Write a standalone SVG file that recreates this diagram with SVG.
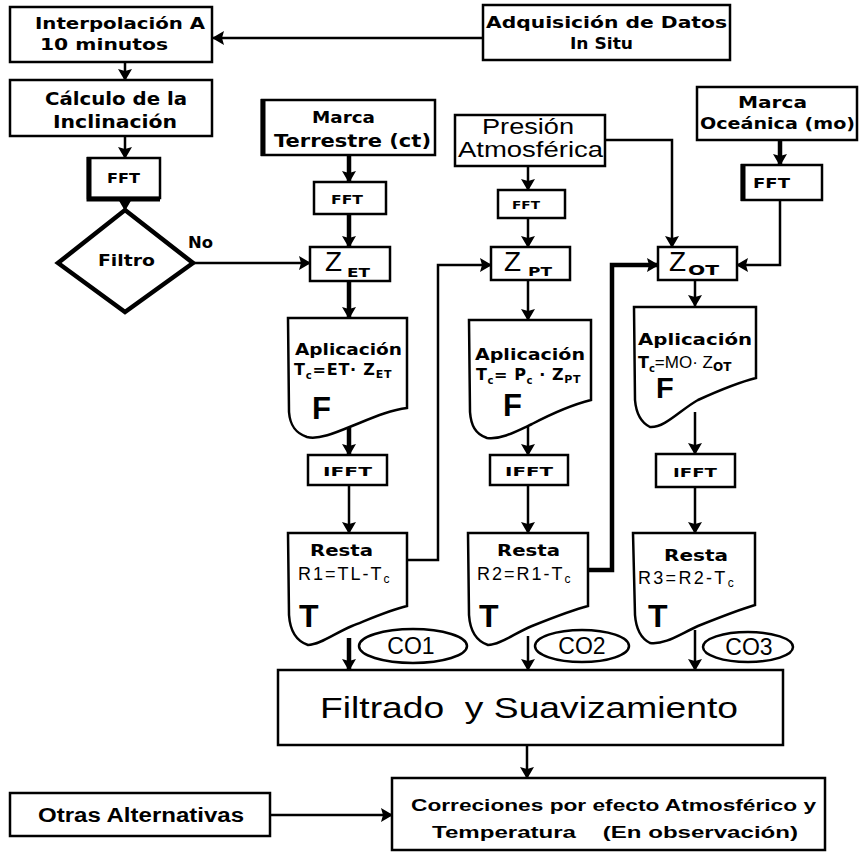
<svg xmlns="http://www.w3.org/2000/svg" width="860" height="856" viewBox="0 0 860 856">
<defs>
<marker id="ah" viewBox="0 0 12 14" refX="11" refY="7" markerWidth="12" markerHeight="14" markerUnits="userSpaceOnUse" orient="auto">
<path d="M0,0 L12,7 L0,14 L2,7 Z" fill="#000"/>
</marker>
<style>
.box{fill:#fff;stroke:#000;stroke-width:2.5}
.thk{stroke:#000;stroke-width:5;fill:none}
.ln{fill:none;stroke:#000;stroke-width:2.5}
.ln4{fill:none;stroke:#000;stroke-width:4.5}
.t{font-family:"DejaVu Sans","Liberation Sans",Arial,sans-serif;font-weight:bold;fill:#000}
.a{font-family:"Liberation Sans",Arial,sans-serif;font-weight:bold;fill:#000}
.r{font-family:"Liberation Sans",Arial,sans-serif;font-weight:normal;fill:#000}
.m{text-anchor:middle}
</style>
</defs>
<rect width="860" height="856" fill="#fff"/>

<g id="connectors">
<path class="ln" d="M483,38 H213" marker-end="url(#ah)"/>
<path class="ln" d="M125,62 V80" marker-end="url(#ah)"/>
<path class="ln" d="M125,136 V158" marker-end="url(#ah)"/>
<path class="ln" d="M125,198 V210" marker-end="url(#ah)"/>
<path class="ln" d="M193,263 H310" marker-end="url(#ah)"/>
<path class="ln4" d="M349,155 V182" marker-end="url(#ah)"/>
<path class="ln4" d="M349,214 V247" marker-end="url(#ah)"/>
<path class="ln4" d="M349,281 V318" marker-end="url(#ah)"/>
<path class="ln4" d="M349,425 V455" marker-end="url(#ah)"/>
<path class="ln" d="M349,485 V533" marker-end="url(#ah)"/>
<path class="ln4" d="M349,638 V670" marker-end="url(#ah)"/>
<path class="ln" d="M528,166 V190" marker-end="url(#ah)"/>
<path class="ln" d="M528,218 V247" marker-end="url(#ah)"/>
<path class="ln" d="M528,280 V320" marker-end="url(#ah)"/>
<path class="ln" d="M528,425 V455" marker-end="url(#ah)"/>
<path class="ln" d="M528,485 V533" marker-end="url(#ah)"/>
<path class="ln" d="M528,636 V670" marker-end="url(#ah)"/>
<path class="ln" d="M695,280 V306" marker-end="url(#ah)"/>
<path class="ln" d="M695,412 V454" marker-end="url(#ah)"/>
<path class="ln" d="M695,487 V533" marker-end="url(#ah)"/>
<path class="ln" d="M695,630 V670" marker-end="url(#ah)"/>
<path class="ln" d="M407,560 H438 V265 H491" marker-end="url(#ah)"/>
<path class="ln4" d="M588,570 H612 V265 H658" marker-end="url(#ah)"/>
<path class="ln" d="M605,140 H672 V247" marker-end="url(#ah)"/>
<path class="ln" d="M780,200 V265 H737" marker-end="url(#ah)"/>
<path class="ln4" d="M780,140 V165" marker-end="url(#ah)"/>
<path class="ln" d="M527,745 V778" marker-end="url(#ah)"/>
<path class="ln" d="M270,815 H392" marker-end="url(#ah)"/>
</g>

<g id="interpolacion">
<rect class="box" x="10" y="7" width="202" height="55"/>
<text class="t" x="35" y="29" font-size="16" textLength="170" lengthAdjust="spacingAndGlyphs">Interpolación A</text>
<text class="t" x="40" y="50" font-size="16" textLength="128" lengthAdjust="spacingAndGlyphs">10 minutos</text>
</g>
<g id="adquisicion">
<rect class="box" x="483" y="5" width="247" height="55"/>
<text class="t" x="486" y="28" font-size="16" textLength="241" lengthAdjust="spacingAndGlyphs">Adquisición de Datos</text>
<text class="t" x="570" y="49" font-size="16" textLength="63" lengthAdjust="spacingAndGlyphs">In Situ</text>
</g>
<g id="calculo">
<rect class="box" x="10" y="80" width="202" height="56"/>
<text class="t" x="45" y="105" font-size="17" textLength="142" lengthAdjust="spacingAndGlyphs">Cálculo de la</text>
<text class="t" x="53" y="128" font-size="17" textLength="124" lengthAdjust="spacingAndGlyphs">Inclinación</text>
</g>
<g id="fft0">
<rect class="box" x="88" y="158" width="72" height="40"/>
<path class="thk" d="M89,157 V199 H160"/>
<text class="t" x="107" y="183" font-size="14" textLength="33" lengthAdjust="spacingAndGlyphs">FFT</text>
</g>
<g id="filtro">
<polygon points="125,210 193,263 125,312 58,263" fill="#fff" stroke="#000" stroke-width="4.5"/>
<text class="t" x="98" y="266" font-size="15" textLength="57" lengthAdjust="spacingAndGlyphs">Filtro</text>
<text class="t" x="188" y="248" font-size="15" textLength="25" lengthAdjust="spacingAndGlyphs">No</text>
</g>

<g id="marcaT">
<rect class="box" x="262" y="100" width="173" height="55"/>
<path class="thk" d="M263,99 V156"/>
<text class="t" x="312" y="123" font-size="16" textLength="63" lengthAdjust="spacingAndGlyphs">Marca</text>
<text class="t" x="274" y="147" font-size="17" textLength="157" lengthAdjust="spacingAndGlyphs">Terrestre (ct)</text>
</g>
<g id="fft1">
<rect class="box" x="314" y="182" width="72" height="32"/>
<text class="t" x="331" y="204" font-size="13" textLength="32" lengthAdjust="spacingAndGlyphs">FFT</text>
</g>
<g id="zet">
<rect class="box" x="310" y="247" width="80" height="34"/>
<text class="r" x="325" y="271" font-size="28">Z</text>
<text class="t" x="347" y="277" font-size="13" textLength="23" lengthAdjust="spacingAndGlyphs">ET</text>
</g>
<g id="apl1">
<path class="box" d="M288,318 H407 V408 C390,410 372,418 352,426 C335,433 318,440 307,437 C295,433 290,425 289,412 Z"/>
<text class="t" x="295" y="355" font-size="16" textLength="107" lengthAdjust="spacingAndGlyphs">Aplicación</text>
<text class="t" x="294" y="375" font-size="16" letter-spacing="0.8">T<tspan font-size="10" dy="4">c</tspan><tspan dy="-4">=ET· Z</tspan><tspan font-size="11" dy="3">ET</tspan></text>
<text class="a" x="312" y="419" font-size="31">F</text>
</g>
<g id="ifft1">
<rect class="box" x="308" y="455" width="79" height="30"/>
<text class="t" x="323" y="476" font-size="13" textLength="49" lengthAdjust="spacingAndGlyphs">IFFT</text>
</g>
<g id="resta1">
<path class="box" d="M288,533 H407 V606 C390,610 372,618 352,626 C335,633 320,645 308,645 C296,641 290,630 289,615 Z"/>
<text class="t" x="310" y="556" font-size="15" textLength="63" lengthAdjust="spacingAndGlyphs">Resta</text>
<text class="r" x="298" y="580" font-size="18" letter-spacing="2">R1=TL-T<tspan font-size="12" dy="3">c</tspan></text>
<text class="a" x="299" y="627" font-size="32">T</text>
</g>
<g id="co1">
<ellipse cx="413" cy="646" rx="54" ry="17" fill="#fff" stroke="#000" stroke-width="2.5"/>
<text class="r m" x="411" y="654" font-size="23">CO1</text>
</g>

<g id="presion">
<rect class="box" x="455" y="115" width="150" height="51"/>
<text class="r" x="482" y="134" font-size="22" textLength="92" lengthAdjust="spacingAndGlyphs">Presión</text>
<text class="r" x="458" y="157" font-size="22" textLength="145" lengthAdjust="spacingAndGlyphs">Atmosférica</text>
</g>
<g id="fft2">
<rect class="box" x="498" y="190" width="67" height="28"/>
<text class="t" x="512" y="209" font-size="10" textLength="28" lengthAdjust="spacingAndGlyphs">FFT</text>
</g>
<g id="zpt">
<rect class="box" x="491" y="247" width="79" height="33"/>
<text class="r" x="504" y="271" font-size="28">Z</text>
<text class="t" x="528" y="276" font-size="13" textLength="24" lengthAdjust="spacingAndGlyphs">PT</text>
</g>
<g id="apl2">
<path class="box" d="M469,320 H591 V400 C575,404 555,412 532,424 C515,432 500,440 487,438 C475,434 471,425 470,412 Z"/>
<text class="t" x="475" y="360" font-size="16" textLength="110" lengthAdjust="spacingAndGlyphs">Aplicación</text>
<text class="t" x="476" y="380" font-size="16" letter-spacing="0.6">T<tspan font-size="10" dy="4">c</tspan><tspan dy="-4">= P</tspan><tspan font-size="10" dy="4">c</tspan><tspan dy="-4"> · Z</tspan><tspan font-size="11" dy="3">PT</tspan></text>
<text class="a" x="503" y="416" font-size="31">F</text>
</g>
<g id="ifft2">
<rect class="box" x="490" y="455" width="78" height="30"/>
<text class="t" x="505" y="476" font-size="13" textLength="48" lengthAdjust="spacingAndGlyphs">IFFT</text>
</g>
<g id="resta2">
<path class="box" d="M468,533 H588 V606 C572,610 552,618 532,626 C515,633 500,645 488,645 C476,641 470,630 469,615 Z"/>
<text class="t" x="497" y="556" font-size="15" textLength="63" lengthAdjust="spacingAndGlyphs">Resta</text>
<text class="r" x="477" y="580" font-size="18" letter-spacing="2">R2=R1-T<tspan font-size="12" dy="3">c</tspan></text>
<text class="a" x="479" y="627" font-size="32">T</text>
</g>
<g id="co2">
<ellipse cx="582" cy="646" rx="47" ry="16" fill="#fff" stroke="#000" stroke-width="2.5"/>
<text class="r m" x="582" y="654" font-size="23">CO2</text>
</g>

<g id="marcaO">
<rect class="box" x="697" y="87" width="160" height="53"/>
<text class="t" x="738" y="108" font-size="16" textLength="69" lengthAdjust="spacingAndGlyphs">Marca</text>
<text class="t" x="700" y="129" font-size="16" textLength="155" lengthAdjust="spacingAndGlyphs">Oceánica (mo)</text>
</g>
<g id="fft3">
<rect class="box" x="742" y="165" width="80" height="35"/>
<path class="thk" d="M743,164 V201"/>
<text class="t" x="753" y="188" font-size="14" textLength="37" lengthAdjust="spacingAndGlyphs">FFT</text>
</g>
<g id="zot">
<rect class="box" x="658" y="247" width="79" height="33"/>
<text class="r" x="669" y="271" font-size="28">Z</text>
<text class="t" x="688" y="275" font-size="14" textLength="31" lengthAdjust="spacingAndGlyphs">OT</text>
</g>
<g id="apl3">
<path class="box" d="M634,307 H756 V378 C740,382 720,390 698,400 C680,410 665,428 650,427 C640,422 636,412 635,400 Z"/>
<text class="t" x="638" y="345" font-size="16" textLength="114" lengthAdjust="spacingAndGlyphs">Aplicación</text>
<text class="t" x="638" y="368" font-size="16">T<tspan font-size="10" dy="4">c</tspan><tspan dy="-4" class="r" font-size="17">=MO· Z</tspan><tspan font-size="12" dy="3">OT</tspan></text>
<text class="a" x="656" y="398" font-size="29">F</text>
</g>
<g id="ifft3">
<rect class="box" x="656" y="454" width="79" height="33"/>
<text class="t" x="673" y="477" font-size="13" textLength="44" lengthAdjust="spacingAndGlyphs">IFFT</text>
</g>
<g id="resta3">
<path class="box" d="M633,533 H755 V605 C738,610 718,618 698,626 C680,634 665,645 650,643 C640,638 636,628 635,615 Z"/>
<text class="t" x="664" y="561" font-size="15" textLength="64" lengthAdjust="spacingAndGlyphs">Resta</text>
<text class="r" x="638" y="584" font-size="18" letter-spacing="2.3">R3=R2-T<tspan font-size="12" dy="3">c</tspan></text>
<text class="a" x="648" y="627" font-size="32">T</text>
</g>
<g id="co3">
<ellipse cx="748" cy="647" rx="45" ry="15" fill="#fff" stroke="#000" stroke-width="2.5"/>
<text class="r m" x="749" y="655" font-size="23">CO3</text>
</g>

<g id="filtrado">
<rect class="box" x="278" y="670" width="505" height="75"/>
<text class="r" x="320" y="718" font-size="30" textLength="418" lengthAdjust="spacingAndGlyphs" xml:space="preserve">Filtrado  y Suavizamiento</text>
</g>
<g id="otras">
<rect class="box" x="10" y="793" width="260" height="43"/>
<text class="a" x="38" y="822" font-size="20" textLength="206" lengthAdjust="spacingAndGlyphs">Otras Alternativas</text>
</g>
<g id="correciones">
<rect class="box" x="392" y="778" width="433" height="72"/>
<text class="a" x="411" y="811" font-size="17" textLength="405" lengthAdjust="spacingAndGlyphs">Correciones por efecto Atmosférico y</text>
<text class="a" x="432" y="838" font-size="17" textLength="366" lengthAdjust="spacingAndGlyphs" xml:space="preserve">Temperatura    (En observación)</text>
</g>
</svg>
